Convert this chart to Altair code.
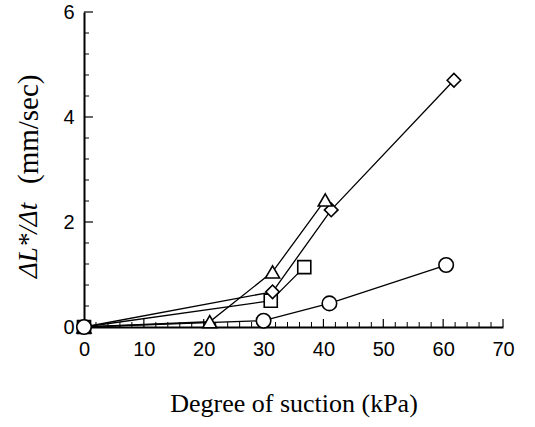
import altair as alt
import pandas as pd

# ---- data ----
circle_x = [0, 30.0, 41.0, 60.5]
circle_y = [0, 0.12, 0.45, 1.18]
triangle_x = [0, 21.0, 31.5, 40.3]
triangle_y = [0, 0.10, 1.05, 2.42]
diamond_x = [0, 31.5, 41.3, 61.8]
diamond_y = [0, 0.67, 2.23, 4.70]
square_x = [0, 31.2, 36.8]
square_y = [0, 0.50, 1.14]

x_major = [0, 10, 20, 30, 40, 50, 60, 70]
x_minor = [v for v in range(0, 71, 2) if v % 10 != 0]
y_major = [0, 2, 4, 6]
y_minor = [round(0.4 * i, 1) for i in range(16) if round(0.4 * i, 1) not in (0, 2, 4, 6)]

series = [("square", square_x, square_y), ("diamond", diamond_x, diamond_y),
          ("triangle", triangle_x, triangle_y), ("circle", circle_x, circle_y)]
rows = []
for k, (name, xs, ys) in enumerate(series):
    for i, (a, b) in enumerate(zip(xs, ys)):
        rows.append({"series": name, "x": a, "y": b, "idx": i, "draw": k})
df = pd.DataFrame(rows)

W, H = 419, 315
xs = alt.Scale(domain=[0, 70], nice=False)
ys = alt.Scale(domain=[0, 6], nice=False)

base = alt.Chart(df)

lines = base.mark_line(color="black", strokeWidth=1.3).encode(
    x=alt.X("x:Q", scale=xs,
            axis=alt.Axis(values=x_major, ticks=False, grid=False, domainColor="black",
                          domainWidth=2, labelFont="Liberation Sans Narrow, Liberation Sans",
                          labelFontSize=20, labelColor="black", labelPadding=12,
                          labelFlush=False, labelOverlap=False,
                          title="Degree of suction (kPa)", titleFont="Liberation Serif",
                          titleFontSize=26, titleFontWeight="normal", titleColor="black",
                          titlePadding=31)),
    y=alt.Y("y:Q", scale=ys,
            axis=alt.Axis(values=y_major, ticks=False, grid=False, domainColor="black",
                          domainWidth=2, labelFont="Liberation Sans Narrow, Liberation Sans",
                          labelFontSize=20, labelColor="black", labelPadding=10,
                          labelFlush=False, title=None)),
    detail="series:N",
    order="idx:Q",
)

points = base.mark_point(filled=True, fill="white", stroke="black", strokeWidth=1.6, opacity=1).encode(
    x=alt.X("x:Q", scale=xs),
    y=alt.Y("y:Q", scale=ys),
    shape=alt.Shape("series:N",
                    scale=alt.Scale(domain=["circle", "triangle", "diamond", "square"],
                                    range=["circle", "triangle-up", "diamond", "square"]),
                    legend=None),
    size=alt.Size("series:N",
                  scale=alt.Scale(domain=["circle", "triangle", "diamond", "square"],
                                  range=[210, 170, 180, 180]),
                  legend=None),
    order="draw:Q",
)

xmaj = alt.Chart(pd.DataFrame({"v": x_major})).mark_rule(color="black", strokeWidth=1.2).encode(
    x=alt.X("v:Q", scale=xs), y=alt.value(H), y2=alt.value(H - 8))
xmin = alt.Chart(pd.DataFrame({"v": x_minor})).mark_rule(color="black", strokeWidth=1).encode(
    x=alt.X("v:Q", scale=xs), y=alt.value(H), y2=alt.value(H - 5))
ymaj = alt.Chart(pd.DataFrame({"v": y_major})).mark_rule(color="black", strokeWidth=1.2).encode(
    y=alt.Y("v:Q", scale=ys), x=alt.value(0), x2=alt.value(9))
ymin = alt.Chart(pd.DataFrame({"v": y_minor})).mark_rule(color="black", strokeWidth=1).encode(
    y=alt.Y("v:Q", scale=ys), x=alt.value(0), x2=alt.value(5))

ytitle_it = alt.Chart(pd.DataFrame({"t": ["\u0394L*/\u0394t"]})).mark_text(
    angle=270, align="left", baseline="middle", font="Liberation Serif", fontStyle="italic",
    fontSize=27, color="black").encode(text="t:N", x=alt.value(-55), y=alt.value(266))
ytitle_up = alt.Chart(pd.DataFrame({"t": ["(mm/sec)"]})).mark_text(
    angle=270, align="left", baseline="middle", font="Liberation Serif",
    fontSize=29, color="black").encode(text="t:N", x=alt.value(-55), y=alt.value(172))

chart = alt.layer(xmin, xmaj, ymin, ymaj, lines, points, ytitle_it, ytitle_up).properties(
    width=W, height=H,
    autosize=alt.AutoSizeParams(type="none"),
    padding={"left": 84, "top": 12, "right": 32, "bottom": 100},
    background="white",
).configure_view(stroke=None)

chart.save("out.html", embed_options={"renderer": "svg", "actions": False})
